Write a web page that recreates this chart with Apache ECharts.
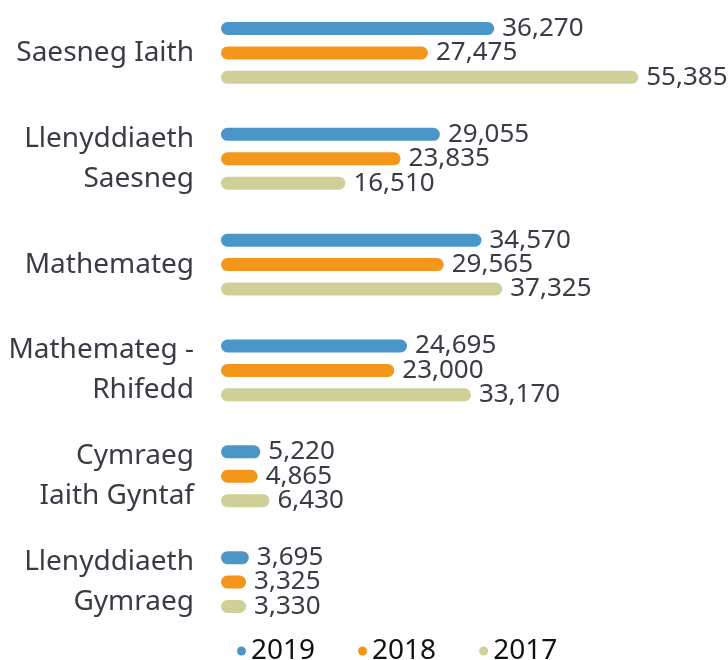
<!DOCTYPE html>
<html>
<head>
<meta charset="utf-8">
<script src="https://cdn.jsdelivr.net/npm/echarts@6/dist/echarts.min.js"></script>
<style>html,body{margin:0;padding:0;background:#fff}#c{width:728px;height:660px}</style>
</head>
<body>
<div id="c"></div>
<script>
const categories = ['Saesneg Iaith', 'Llenyddiaeth\nSaesneg', 'Mathemateg', 'Mathemateg -\nRhifedd', 'Cymraeg\nIaith Gyntaf', 'Llenyddiaeth\nGymraeg'];
const seriesNames = ['2019', '2018', '2017'];
const values2019 = [36270, 29055, 34570, 24695, 5220, 3695];
const values2018 = [27475, 23835, 29565, 23000, 4865, 3325];
const values2017 = [55385, 16510, 37325, 33170, 6430, 3330];
const colors = ['#4b96c9', '#f4961a', '#cfd097'];

const chart = echarts.init(document.getElementById('c'));
const fontFam = '"Noto Sans", sans-serif';
const mk = (name, data, color) => ({
  name, type: 'bar', data, barWidth: 13, barGap: '88%',
  itemStyle: { color, borderRadius: 7 },
  label: {
    show: true, position: 'right', distance: 8,
    fontFamily: fontFam, fontSize: 26, color: '#3b3b46',
    formatter: p => p.value.toLocaleString('en-US')
  }
});
chart.setOption({
  animation: false,
  grid: { left: 221, right: 55, top: 0, height: 635, containLabel: false },
  xAxis: { type: 'value', min: 0, max: 60000, show: false },
  yAxis: {
    type: 'category', data: categories, inverse: true,
    axisLine: { show: false }, axisTick: { show: false },
    axisLabel: { margin: 27, fontFamily: fontFam, fontSize: 28, color: '#3b3b46', lineHeight: 40, align: 'right' }
  },
  legend: {
    data: seriesNames, bottom: -10, left: 232,
    icon: 'circle', itemWidth: 9, itemHeight: 9, itemGap: 43,
    textStyle: { fontFamily: fontFam, fontSize: 28, color: '#111' }
  },
  series: [mk(seriesNames[0], values2019, colors[0]), mk(seriesNames[1], values2018, colors[1]), mk(seriesNames[2], values2017, colors[2])]
});
</script>
</body>
</html>
